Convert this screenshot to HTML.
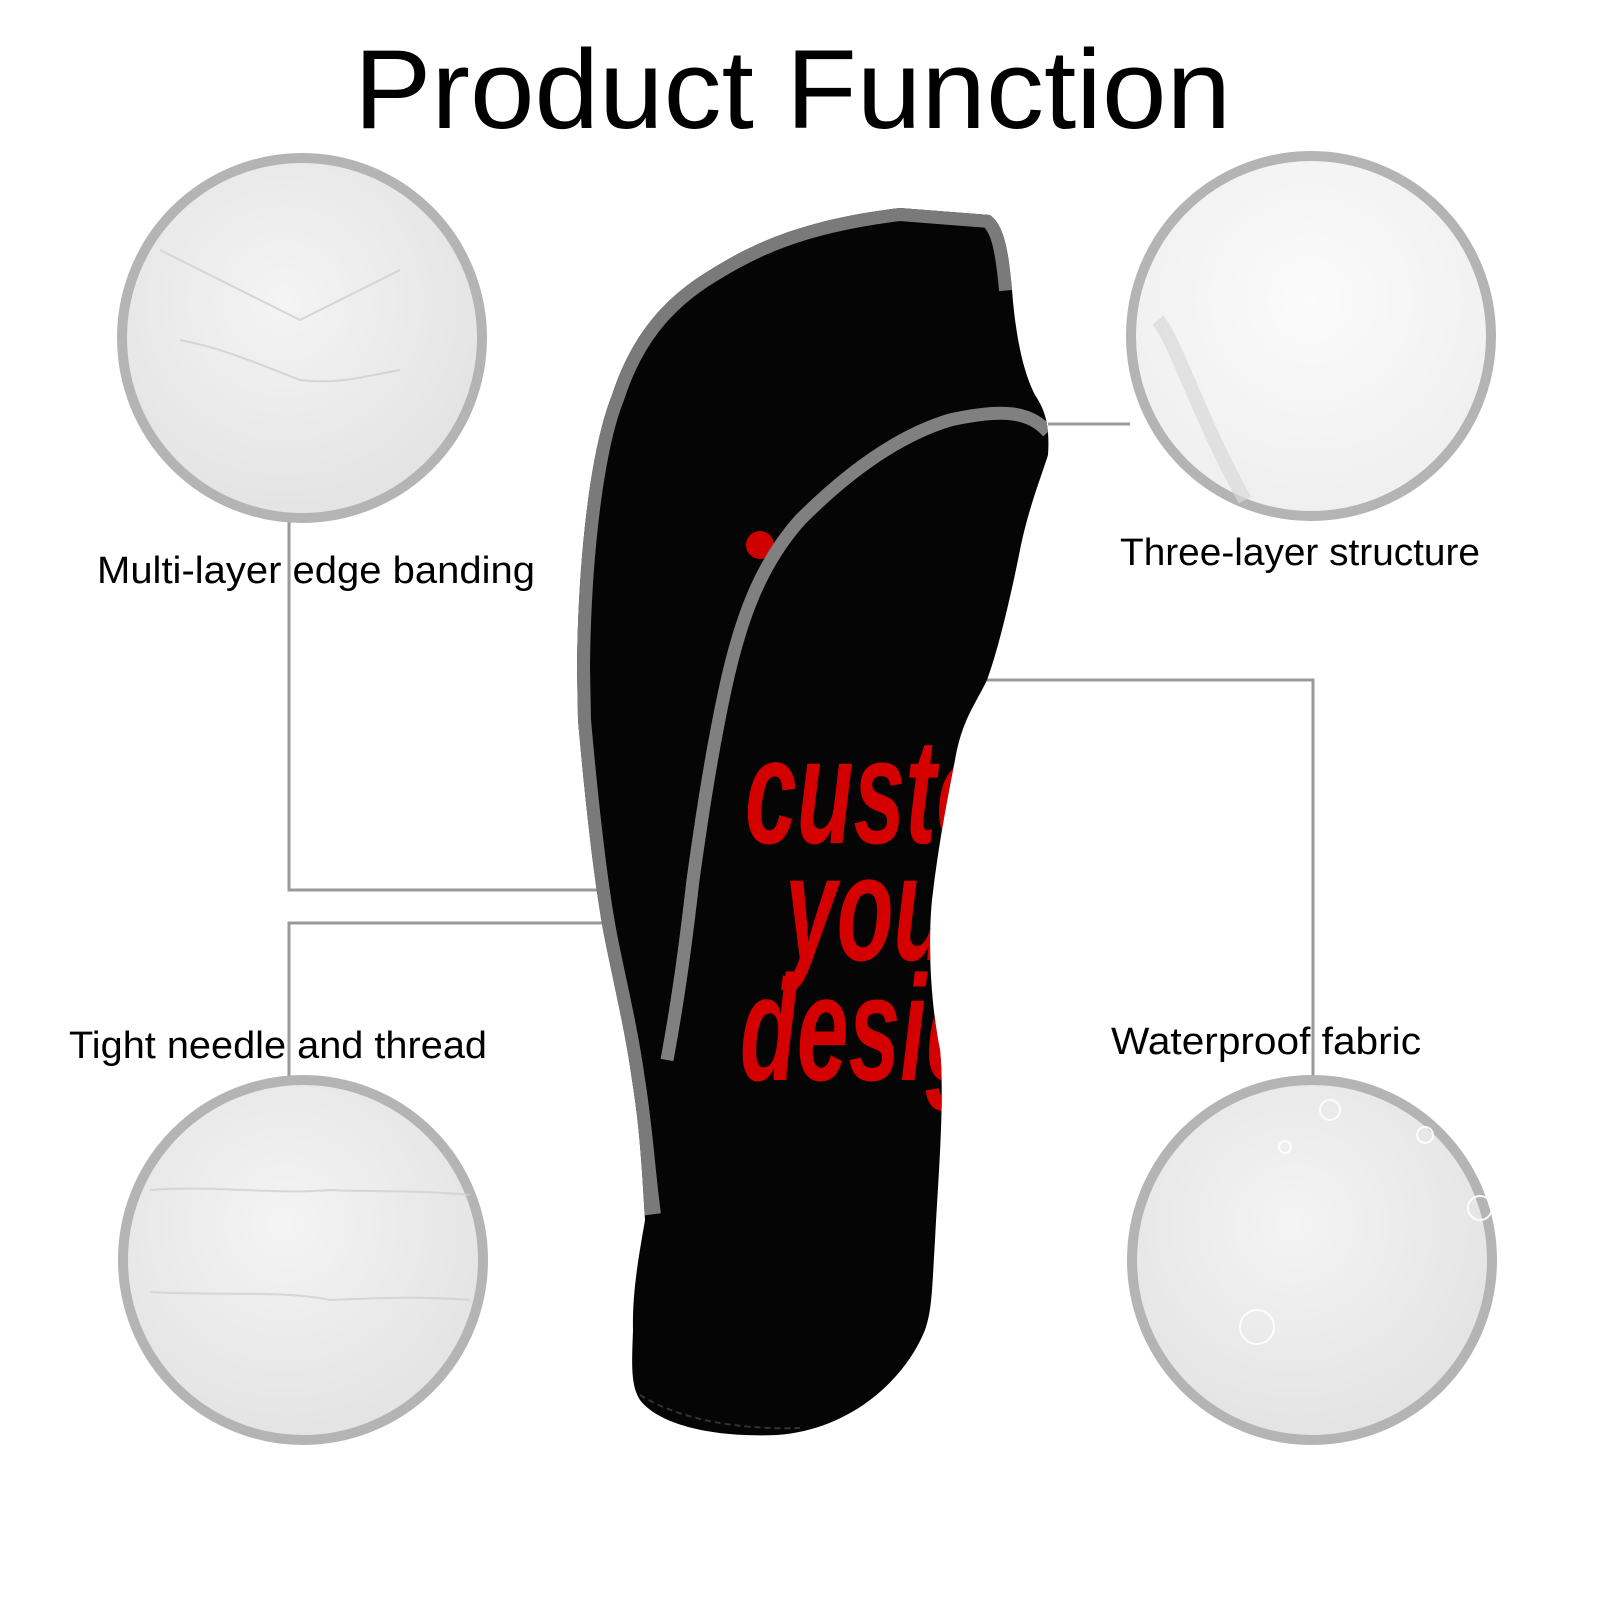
<!DOCTYPE html>
<html><head><meta charset="utf-8"><style>
html,body{margin:0;padding:0;background:#fff;width:1600px;height:1600px;overflow:hidden}
svg{display:block}
text{font-family:"Liberation Sans",sans-serif}
</style></head><body>
<svg width="1600" height="1600" viewBox="0 0 1600 1600" xmlns="http://www.w3.org/2000/svg">
<defs>
<radialGradient id="g1" cx="0.45" cy="0.4" r="0.65"><stop offset="0" stop-color="#f4f4f4"/><stop offset="1" stop-color="#e2e2e2"/></radialGradient>
<radialGradient id="g2" cx="0.5" cy="0.4" r="0.7"><stop offset="0" stop-color="#fbfbfb"/><stop offset="1" stop-color="#ededed"/></radialGradient>
<clipPath id="body"><path id="bp" d="M577,667 C578,560 590,450 612,395 C630,340 660,300 710,270 C750,245 800,220 900,208 L990,215 C1003,225 1008,245 1012,290 C1015,330 1022,370 1035,395 C1045,410 1050,425 1048,455 C1040,480 1028,510 1020,550 C1010,600 998,650 987,680 C975,705 962,720 955,760 C945,810 938,850 932,900 C928,940 930,1000 940,1050 C945,1100 938,1180 935,1240 C932,1290 932,1310 925,1330 C905,1380 850,1430 777,1435 C700,1438 655,1420 640,1400 C630,1385 632,1360 633,1330 C632,1290 640,1250 645,1220 C642,1170 640,1130 632,1080 C625,1030 615,990 605,940 C595,890 585,800 578,720 Z"/></clipPath>
</defs>

<text x="354" y="128" font-size="112" textLength="877" lengthAdjust="spacingAndGlyphs" fill="#000">Product Function</text>

<g stroke="#999" stroke-width="3" fill="none">
<polyline points="289,520 289,890 700,890"/>
<polyline points="700,923 289,923 289,1078"/>
<polyline points="1048,424 1130,424"/>
<polyline points="915,680 1313,680 1313,1078"/>
</g>

<circle cx="302" cy="338" r="180" fill="url(#g1)" stroke="#b4b4b4" stroke-width="10"/>
<circle cx="1311" cy="336" r="180" fill="url(#g2)" stroke="#b4b4b4" stroke-width="10"/>
<path d="M1158,320 C1175,340 1200,420 1245,500" stroke="#d8d8d8" stroke-width="14" fill="none" opacity="0.7"/>
<circle cx="303" cy="1260" r="180" fill="url(#g1)" stroke="#b4b4b4" stroke-width="10"/>
<circle cx="1312" cy="1260" r="180" fill="url(#g1)" stroke="#b4b4b4" stroke-width="10"/>
<g fill="none" stroke="#fff" stroke-width="2" opacity="0.9">
<circle cx="1257" cy="1327" r="17"/><circle cx="1330" cy="1110" r="10"/><circle cx="1425" cy="1135" r="8"/><circle cx="1480" cy="1208" r="12"/><circle cx="1285" cy="1147" r="6"/>
</g>
<g stroke="#cfcfcf" stroke-width="2" fill="none" opacity="0.8">
<path d="M160,250 C220,280 260,300 300,320 C340,300 380,280 400,270"/>
<path d="M180,340 C230,350 260,365 300,380 C340,385 370,375 400,370"/>
<path d="M150,1190 C220,1185 270,1195 330,1190 C370,1192 420,1190 470,1195"/>
<path d="M150,1292 C220,1296 280,1290 330,1300 C380,1298 420,1296 470,1300"/>
</g>

<use href="#bp" fill="#050505"/>
<g clip-path="url(#body)">
<path d="M1012,290 C1008,245 1003,225 990,215 L900,208 C800,220 750,245 710,270 C660,300 630,340 612,395 C590,450 578,560 577,667 L578,720 C585,800 595,890 605,940 C615,990 625,1030 632,1080 C640,1130 642,1170 648,1215" stroke="#7a7a7a" stroke-width="26" fill="none"/>
<circle cx="760" cy="545" r="14" fill="#d00000"/>
<path d="M1048,432 C1030,412 1005,408 950,420 C900,435 850,470 800,520 C760,565 740,620 725,690 C710,760 700,830 693,880 C685,950 678,1000 667,1060" stroke="#808080" stroke-width="13" fill="none"/>
<g fill="#d40000" font-weight="bold" font-style="italic" font-size="150">
<text transform="translate(745,843) scale(0.62,1)">custom</text>
<text transform="translate(785,960) scale(0.62,1)">your</text>
<text transform="translate(740,1080) scale(0.62,1)">design</text>
</g>
</g>
<path d="M640,1395 C680,1420 740,1430 800,1428" stroke="#333" stroke-width="2" stroke-dasharray="6,4" fill="none"/>

<g fill="#000" font-size="38">
<text x="97" y="583" textLength="438" lengthAdjust="spacingAndGlyphs">Multi-layer edge banding</text>
<text x="1120" y="565" textLength="360" lengthAdjust="spacingAndGlyphs">Three-layer structure</text>
<text x="69" y="1058" textLength="418" lengthAdjust="spacingAndGlyphs">Tight needle and thread</text>
<text x="1111" y="1054" textLength="310" lengthAdjust="spacingAndGlyphs">Waterproof fabric</text>
</g>
</svg>
</body></html>
